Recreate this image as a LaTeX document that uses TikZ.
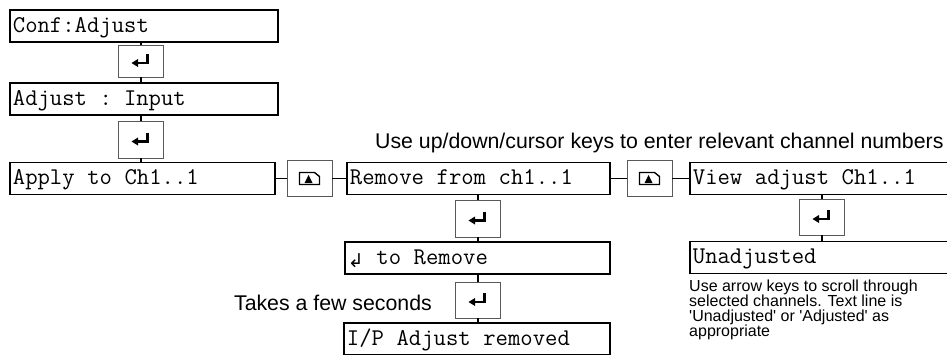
\documentclass[tikz,border=0pt]{standalone}
\usepackage{fontspec}
\setmainfont{Liberation Sans}
\newfontfamily\symfont{DejaVu Sans}
\usepackage{tikz}
\usetikzlibrary{arrows,shapes}
\tikzstyle{lcd}=[draw=black,line width=1.8pt,anchor=west,minimum height=32pt,text width=262pt,align=left,inner xsep=3pt,inner ysep=0pt,text height=16pt,text depth=4pt,font=\ttfamily\fontsize{24}{26}\selectfont,execute at begin node={\spaceskip=12.6pt\relax}]
\tikzstyle{keybox}=[draw=black!65,line width=0.7pt,minimum width=45pt,minimum height=36pt,inner sep=0pt]
\tikzstyle{link}=[line width=1.8pt]
\tikzstyle{note}=[inner sep=0pt,font=\fontsize{21.3}{25}\selectfont]
\tikzset{enterkey/.pic={
  \fill (-9.5,2) -- (-3,-2) -- (-3,6) -- cycle;
  \draw[line width=2.2pt,line join=miter] (6.5,-7) -- (6.5,2) -- (-4,2);},
  pagekey/.pic={
  \draw[line width=1.4pt,line join=miter] (-10,-6) -- (5,-6) -- (10,-2) -- (10,6) -- (-10,6) -- cycle;
  \fill (-5,4.5) -- (-1,-3.5) -- (3,4.5) -- cycle;}}

\begin{document}
\begin{tikzpicture}[x=1pt,y=-1pt]
\useasboundingbox (0,0) rectangle (947,354);
\clip (0,0) rectangle (947,354);
% left column
\node[lcd] (conf) at (9,26) {Conf:Adjust};
\node[keybox,minimum height=32pt] (key1) at (141,61) {}; \pic at (key1) {enterkey};
\node[lcd] (adjin) at (9,99) {Adjust : Input};
\node[keybox,minimum height=37pt] (key2) at (141,139.5) {}; \pic at (key2) {enterkey};
\node[lcd,text width=259pt] (apply) at (9,178.5) {Apply to Ch1..1};
% remove column
\node[keybox] (keyA) at (309.5,178.5) {}; \pic at (keyA) {pagekey};
\node[lcd,text width=257pt] (remove) at (346,178.5) {Remove from ch1..1};
\node[keybox,minimum height=37pt] (key3) at (478,218.5) {}; \pic at (key3) {enterkey};
\node[lcd,text width=259pt] (toremove) at (344,258) {\raisebox{-3pt}{\symfont\fontsize{19}{19}\selectfont ↲} to Remove};
\node[keybox] (key4) at (478,300) {}; \pic at (key4) {enterkey};
\node[lcd,text width=260pt] (removed) at (343,339) {I/P Adjust removed};
% view column
\node[keybox] (keyB) at (649.5,178.5) {}; \pic at (keyB) {pagekey};
\node[lcd] (view) at (689,178.5) {View adjust Ch1..1};
\node[keybox] (key5) at (822,217) {}; \pic at (key5) {enterkey};
\node[lcd] (unadj) at (689,257.5) {Unadjusted};
% notes
\node[note,anchor=west] (hint) at (375,143) {Use up/down/cursor keys to enter relevant channel numbers};
\node[note,anchor=east] (wait) at (432,303) {Takes a few seconds};
\node[inner sep=0pt,anchor=north west,align=left,font=\fontsize{16}{15}\selectfont] (info) at (689,280)
  {Use arrow keys to scroll through\\selected channels. Text line is\\\textquotesingle Unadjusted\textquotesingle{} or \textquotesingle Adjusted\textquotesingle{} as\\appropriate};
% connectors
\draw[link] (key1.north) -- (key1.north |- conf.south); \draw[link] (key1.south) -- (key1.south |- adjin.north);
\draw[link] (key2.north) -- (key2.north |- adjin.south); \draw[link] (key2.south) -- (key2.south |- apply.north);
\draw[link] (apply.east) -- (keyA.west); \draw[link] (keyA.east) -- (remove.west);
\draw[link] (remove.east) -- (keyB.west); \draw[link] (keyB.east) -- (view.west);
\draw[link] (key3.north) -- (key3.north |- remove.south); \draw[link] (key3.south) -- (key3.south |- toremove.north);
\draw[link] (key4.north) -- (key4.north |- toremove.south); \draw[link] (key4.south) -- (key4.south |- removed.north);
\draw[link] (key5.north) -- (key5.north |- view.south); \draw[link] (key5.south) -- (key5.south |- unadj.north);
\end{tikzpicture}
\end{document}
